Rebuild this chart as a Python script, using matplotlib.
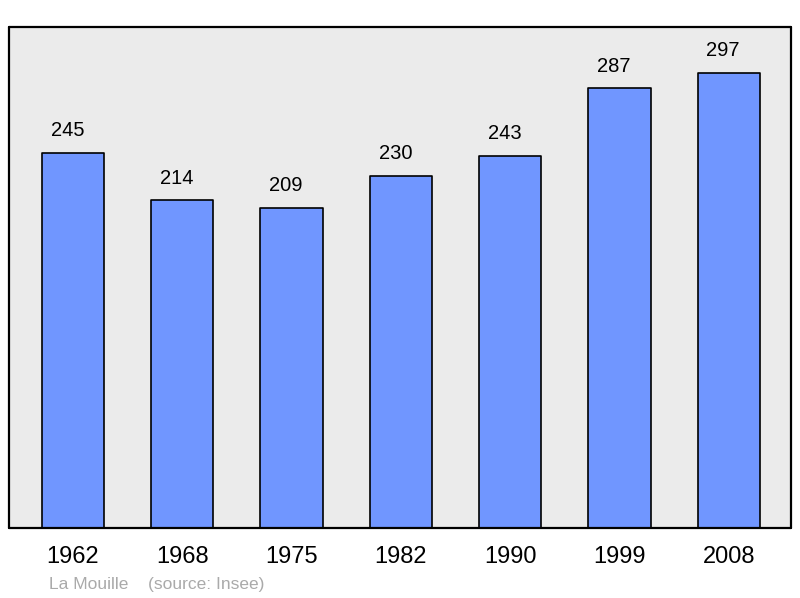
import matplotlib.pyplot as plt

plt.rcParams['font.family'] = ['Liberation Sans', 'DejaVu Sans']

years = ["1962", "1968", "1975", "1982", "1990", "1999", "2008"]
population = [245, 214, 209, 230, 243, 287, 297]

fig = plt.figure(figsize=(8, 5.98), dpi=100)
ax = fig.add_axes([0.01125, 0.117, 0.9775, 0.838])
ax.set_facecolor("#ebebeb")

x = range(len(years))
bars = ax.bar(x, population, width=0.57, color="#7096ff",
              edgecolor="black", linewidth=1.2, joinstyle="round")

for xi, v in zip(x, population):
    ax.annotate(str(v), (xi, v), xytext=(-4, 9), textcoords="offset points",
                ha="center", va="bottom", fontsize=14.5)

ax.set_xlim(-0.585, 6.57)
ax.set_ylim(0, 327)
ax.set_xticks(list(x))
ax.set_xticklabels(years, fontsize=17)
ax.tick_params(axis="x", length=0, pad=13)
ax.set_yticks([])
for s in ax.spines.values():
    s.set_linewidth(1.6)
    s.set_color("black")
    s.set_capstyle("round")

fig.text(0.061, 0.01, "La Mouille", color="#aaaaaa",
         fontsize=12.5, ha="left", va="bottom")
fig.text(0.185, 0.01, "(source: Insee)", color="#aaaaaa",
         fontsize=12.5, ha="left", va="bottom")

fig.savefig("out.png", dpi=100)
